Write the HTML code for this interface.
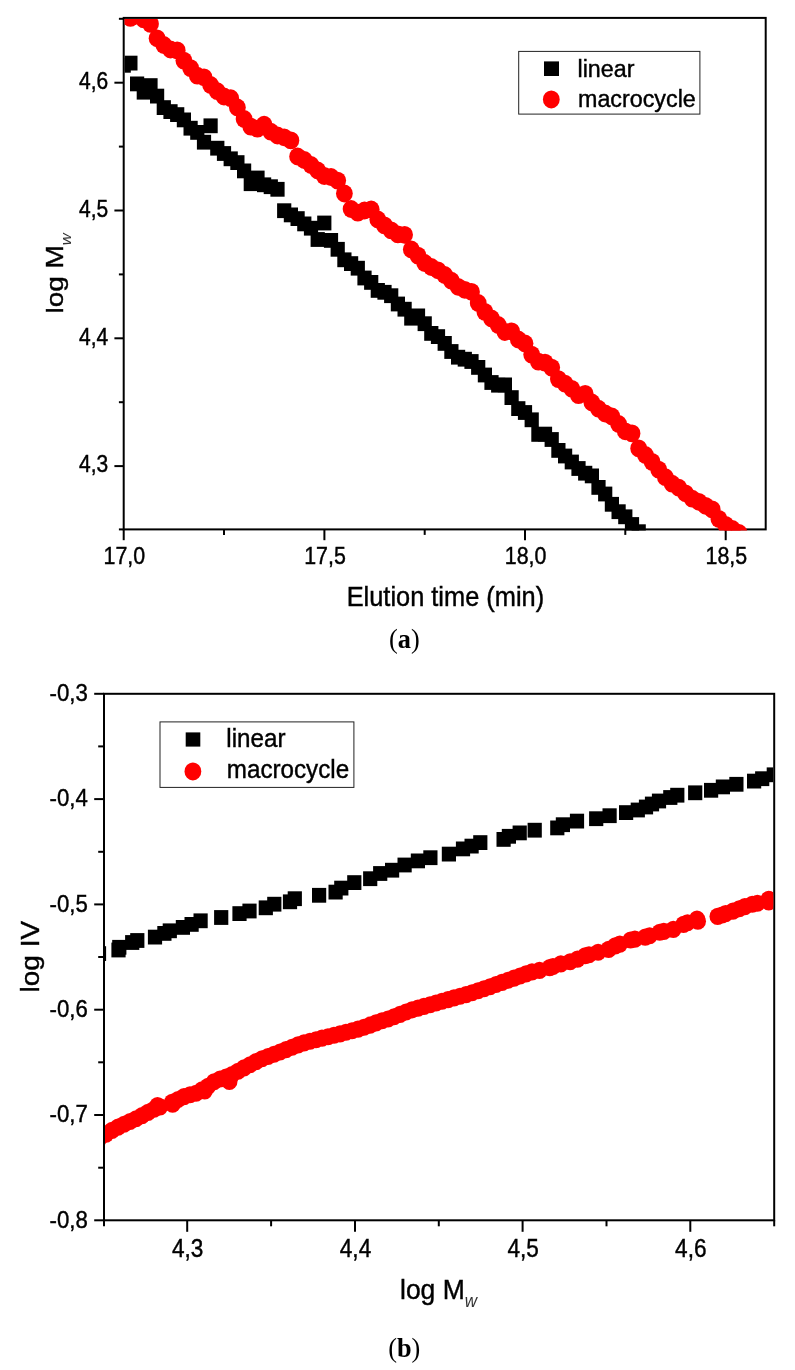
<!DOCTYPE html>
<html lang="en"><head><meta charset="utf-8"><title>Figure</title>
<style>html,body{margin:0;padding:0;background:#fff}svg{display:block}text{font-family:"Liberation Sans",sans-serif;fill:#000}.cap{font-family:"Liberation Serif",serif}</style></head><body>
<svg width="795" height="1370" viewBox="0 0 795 1370">
<rect width="795" height="1370" fill="#fff"/>
<defs><clipPath id="ca"><rect x="124.7" y="18.9" width="640.0" height="511.5"/></clipPath><clipPath id="cb"><rect x="105.0" y="694.8" width="668.2" height="526.5"/></clipPath></defs>
<g stroke="#000" stroke-width="2.0" fill="none">
<rect x="123.7" y="17.9" width="642.0" height="511.5"/>
<line x1="114.4" y1="466.1" x2="123.7" y2="466.1"/>
<line x1="114.4" y1="338.3" x2="123.7" y2="338.3"/>
<line x1="114.4" y1="210.5" x2="123.7" y2="210.5"/>
<line x1="114.4" y1="82.7" x2="123.7" y2="82.7"/>
<line x1="118.9" y1="529.4" x2="123.7" y2="529.4"/>
<line x1="118.9" y1="402.2" x2="123.7" y2="402.2"/>
<line x1="118.9" y1="274.4" x2="123.7" y2="274.4"/>
<line x1="118.9" y1="146.6" x2="123.7" y2="146.6"/>
<line x1="118.9" y1="18.8" x2="123.7" y2="18.8"/>
<line x1="123.7" y1="529.4" x2="123.7" y2="540.2"/>
<line x1="324.4" y1="529.4" x2="324.4" y2="540.2"/>
<line x1="525.0" y1="529.4" x2="525.0" y2="540.2"/>
<line x1="725.7" y1="529.4" x2="725.7" y2="540.2"/>
<line x1="224.0" y1="529.4" x2="224.0" y2="534.9"/>
<line x1="424.7" y1="529.4" x2="424.7" y2="534.9"/>
<line x1="625.3" y1="529.4" x2="625.3" y2="534.9"/>
</g>
<g clip-path="url(#ca)"><g fill="#000">
<rect x="116.6" y="57.9" width="14.2" height="14.8"/>
<rect x="123.3" y="55.7" width="14.2" height="14.8"/>
<rect x="130.0" y="76.5" width="14.2" height="14.8"/>
<rect x="136.7" y="84.8" width="14.2" height="14.8"/>
<rect x="143.4" y="78.2" width="14.2" height="14.8"/>
<rect x="150.0" y="88.7" width="14.2" height="14.8"/>
<rect x="156.7" y="100.2" width="14.2" height="14.8"/>
<rect x="163.4" y="104.2" width="14.2" height="14.8"/>
<rect x="170.1" y="107.2" width="14.2" height="14.8"/>
<rect x="176.8" y="112.5" width="14.2" height="14.8"/>
<rect x="183.5" y="120.8" width="14.2" height="14.8"/>
<rect x="190.2" y="125.0" width="14.2" height="14.8"/>
<rect x="196.9" y="134.8" width="14.2" height="14.8"/>
<rect x="203.5" y="118.4" width="14.2" height="14.8"/>
<rect x="210.2" y="140.8" width="14.2" height="14.8"/>
<rect x="216.9" y="146.1" width="14.2" height="14.8"/>
<rect x="223.6" y="151.4" width="14.2" height="14.8"/>
<rect x="230.3" y="155.2" width="14.2" height="14.8"/>
<rect x="237.0" y="163.5" width="14.2" height="14.8"/>
<rect x="243.7" y="176.3" width="14.2" height="14.8"/>
<rect x="250.4" y="170.6" width="14.2" height="14.8"/>
<rect x="257.0" y="177.4" width="14.2" height="14.8"/>
<rect x="263.7" y="179.3" width="14.2" height="14.8"/>
<rect x="270.4" y="181.9" width="14.2" height="14.8"/>
<rect x="277.1" y="203.3" width="14.2" height="14.8"/>
<rect x="283.8" y="207.5" width="14.2" height="14.8"/>
<rect x="290.5" y="211.2" width="14.2" height="14.8"/>
<rect x="297.2" y="216.5" width="14.2" height="14.8"/>
<rect x="303.9" y="220.8" width="14.2" height="14.8"/>
<rect x="310.6" y="232.1" width="14.2" height="14.8"/>
<rect x="317.2" y="215.6" width="14.2" height="14.8"/>
<rect x="323.9" y="233.0" width="14.2" height="14.8"/>
<rect x="330.6" y="241.9" width="14.2" height="14.8"/>
<rect x="337.3" y="252.4" width="14.2" height="14.8"/>
<rect x="344.0" y="256.2" width="14.2" height="14.8"/>
<rect x="350.7" y="260.8" width="14.2" height="14.8"/>
<rect x="357.4" y="270.6" width="14.2" height="14.8"/>
<rect x="364.1" y="275.0" width="14.2" height="14.8"/>
<rect x="370.7" y="283.0" width="14.2" height="14.8"/>
<rect x="377.4" y="284.9" width="14.2" height="14.8"/>
<rect x="384.1" y="288.3" width="14.2" height="14.8"/>
<rect x="390.8" y="296.6" width="14.2" height="14.8"/>
<rect x="397.5" y="301.8" width="14.2" height="14.8"/>
<rect x="404.2" y="310.8" width="14.2" height="14.8"/>
<rect x="410.9" y="308.5" width="14.2" height="14.8"/>
<rect x="417.6" y="316.3" width="14.2" height="14.8"/>
<rect x="424.2" y="326.0" width="14.2" height="14.8"/>
<rect x="430.9" y="329.2" width="14.2" height="14.8"/>
<rect x="437.6" y="336.0" width="14.2" height="14.8"/>
<rect x="444.3" y="344.1" width="14.2" height="14.8"/>
<rect x="451.0" y="349.8" width="14.2" height="14.8"/>
<rect x="457.7" y="351.8" width="14.2" height="14.8"/>
<rect x="464.4" y="354.1" width="14.2" height="14.8"/>
<rect x="471.1" y="360.0" width="14.2" height="14.8"/>
<rect x="477.8" y="367.6" width="14.2" height="14.8"/>
<rect x="484.4" y="375.1" width="14.2" height="14.8"/>
<rect x="491.1" y="377.8" width="14.2" height="14.8"/>
<rect x="497.8" y="377.5" width="14.2" height="14.8"/>
<rect x="504.5" y="390.2" width="14.2" height="14.8"/>
<rect x="511.2" y="401.2" width="14.2" height="14.8"/>
<rect x="517.9" y="405.1" width="14.2" height="14.8"/>
<rect x="524.6" y="412.4" width="14.2" height="14.8"/>
<rect x="531.3" y="427.0" width="14.2" height="14.8"/>
<rect x="537.9" y="426.7" width="14.2" height="14.8"/>
<rect x="544.6" y="432.1" width="14.2" height="14.8"/>
<rect x="551.3" y="443.0" width="14.2" height="14.8"/>
<rect x="558.0" y="448.6" width="14.2" height="14.8"/>
<rect x="564.7" y="454.6" width="14.2" height="14.8"/>
<rect x="571.4" y="461.1" width="14.2" height="14.8"/>
<rect x="578.1" y="465.8" width="14.2" height="14.8"/>
<rect x="584.8" y="468.5" width="14.2" height="14.8"/>
<rect x="591.4" y="480.0" width="14.2" height="14.8"/>
<rect x="598.1" y="486.6" width="14.2" height="14.8"/>
<rect x="604.8" y="496.9" width="14.2" height="14.8"/>
<rect x="611.5" y="504.3" width="14.2" height="14.8"/>
<rect x="618.2" y="509.4" width="14.2" height="14.8"/>
<rect x="624.9" y="517.1" width="14.2" height="14.8"/>
<rect x="631.6" y="524.3" width="14.2" height="14.8"/>
</g><g fill="#f00">
<ellipse cx="123.7" cy="16.0" rx="8.4" ry="8.9"/>
<ellipse cx="130.4" cy="17.9" rx="8.4" ry="8.9"/>
<ellipse cx="137.1" cy="15.6" rx="8.4" ry="8.9"/>
<ellipse cx="143.8" cy="19.4" rx="8.4" ry="8.9"/>
<ellipse cx="150.5" cy="23.9" rx="8.4" ry="8.9"/>
<ellipse cx="157.1" cy="38.3" rx="8.4" ry="8.9"/>
<ellipse cx="163.8" cy="45.0" rx="8.4" ry="8.9"/>
<ellipse cx="170.5" cy="49.5" rx="8.4" ry="8.9"/>
<ellipse cx="177.2" cy="50.4" rx="8.4" ry="8.9"/>
<ellipse cx="183.9" cy="60.6" rx="8.4" ry="8.9"/>
<ellipse cx="190.6" cy="68.1" rx="8.4" ry="8.9"/>
<ellipse cx="197.3" cy="75.7" rx="8.4" ry="8.9"/>
<ellipse cx="204.0" cy="77.3" rx="8.4" ry="8.9"/>
<ellipse cx="210.6" cy="85.0" rx="8.4" ry="8.9"/>
<ellipse cx="217.3" cy="91.2" rx="8.4" ry="8.9"/>
<ellipse cx="224.0" cy="96.5" rx="8.4" ry="8.9"/>
<ellipse cx="230.7" cy="98.2" rx="8.4" ry="8.9"/>
<ellipse cx="237.4" cy="107.5" rx="8.4" ry="8.9"/>
<ellipse cx="244.1" cy="119.0" rx="8.4" ry="8.9"/>
<ellipse cx="250.8" cy="126.7" rx="8.4" ry="8.9"/>
<ellipse cx="257.5" cy="128.7" rx="8.4" ry="8.9"/>
<ellipse cx="264.1" cy="124.7" rx="8.4" ry="8.9"/>
<ellipse cx="270.8" cy="131.7" rx="8.4" ry="8.9"/>
<ellipse cx="277.5" cy="135.5" rx="8.4" ry="8.9"/>
<ellipse cx="284.2" cy="137.3" rx="8.4" ry="8.9"/>
<ellipse cx="290.9" cy="140.4" rx="8.4" ry="8.9"/>
<ellipse cx="297.6" cy="156.5" rx="8.4" ry="8.9"/>
<ellipse cx="304.3" cy="160.0" rx="8.4" ry="8.9"/>
<ellipse cx="311.0" cy="165.0" rx="8.4" ry="8.9"/>
<ellipse cx="317.7" cy="170.5" rx="8.4" ry="8.9"/>
<ellipse cx="324.3" cy="176.0" rx="8.4" ry="8.9"/>
<ellipse cx="331.0" cy="177.0" rx="8.4" ry="8.9"/>
<ellipse cx="337.7" cy="180.6" rx="8.4" ry="8.9"/>
<ellipse cx="344.4" cy="193.5" rx="8.4" ry="8.9"/>
<ellipse cx="351.1" cy="209.0" rx="8.4" ry="8.9"/>
<ellipse cx="357.8" cy="212.7" rx="8.4" ry="8.9"/>
<ellipse cx="364.5" cy="210.5" rx="8.4" ry="8.9"/>
<ellipse cx="371.2" cy="209.5" rx="8.4" ry="8.9"/>
<ellipse cx="377.8" cy="219.5" rx="8.4" ry="8.9"/>
<ellipse cx="384.5" cy="225.4" rx="8.4" ry="8.9"/>
<ellipse cx="391.2" cy="230.4" rx="8.4" ry="8.9"/>
<ellipse cx="397.9" cy="234.4" rx="8.4" ry="8.9"/>
<ellipse cx="404.6" cy="234.8" rx="8.4" ry="8.9"/>
<ellipse cx="411.3" cy="249.5" rx="8.4" ry="8.9"/>
<ellipse cx="418.0" cy="255.6" rx="8.4" ry="8.9"/>
<ellipse cx="424.7" cy="263.0" rx="8.4" ry="8.9"/>
<ellipse cx="431.3" cy="267.0" rx="8.4" ry="8.9"/>
<ellipse cx="438.0" cy="270.3" rx="8.4" ry="8.9"/>
<ellipse cx="444.7" cy="275.0" rx="8.4" ry="8.9"/>
<ellipse cx="451.4" cy="280.7" rx="8.4" ry="8.9"/>
<ellipse cx="458.1" cy="286.8" rx="8.4" ry="8.9"/>
<ellipse cx="464.8" cy="289.8" rx="8.4" ry="8.9"/>
<ellipse cx="471.5" cy="291.8" rx="8.4" ry="8.9"/>
<ellipse cx="478.2" cy="303.0" rx="8.4" ry="8.9"/>
<ellipse cx="484.9" cy="311.9" rx="8.4" ry="8.9"/>
<ellipse cx="491.5" cy="318.5" rx="8.4" ry="8.9"/>
<ellipse cx="498.2" cy="325.0" rx="8.4" ry="8.9"/>
<ellipse cx="504.9" cy="332.0" rx="8.4" ry="8.9"/>
<ellipse cx="511.6" cy="331.4" rx="8.4" ry="8.9"/>
<ellipse cx="518.3" cy="339.5" rx="8.4" ry="8.9"/>
<ellipse cx="525.0" cy="343.5" rx="8.4" ry="8.9"/>
<ellipse cx="531.7" cy="354.6" rx="8.4" ry="8.9"/>
<ellipse cx="538.4" cy="361.6" rx="8.4" ry="8.9"/>
<ellipse cx="545.0" cy="362.6" rx="8.4" ry="8.9"/>
<ellipse cx="551.7" cy="367.6" rx="8.4" ry="8.9"/>
<ellipse cx="558.4" cy="379.1" rx="8.4" ry="8.9"/>
<ellipse cx="565.1" cy="383.7" rx="8.4" ry="8.9"/>
<ellipse cx="571.8" cy="388.8" rx="8.4" ry="8.9"/>
<ellipse cx="578.5" cy="395.2" rx="8.4" ry="8.9"/>
<ellipse cx="585.2" cy="393.8" rx="8.4" ry="8.9"/>
<ellipse cx="591.9" cy="402.5" rx="8.4" ry="8.9"/>
<ellipse cx="598.5" cy="408.7" rx="8.4" ry="8.9"/>
<ellipse cx="605.2" cy="413.5" rx="8.4" ry="8.9"/>
<ellipse cx="611.9" cy="416.5" rx="8.4" ry="8.9"/>
<ellipse cx="618.6" cy="424.0" rx="8.4" ry="8.9"/>
<ellipse cx="625.3" cy="431.3" rx="8.4" ry="8.9"/>
<ellipse cx="632.0" cy="433.4" rx="8.4" ry="8.9"/>
<ellipse cx="638.7" cy="448.4" rx="8.4" ry="8.9"/>
<ellipse cx="645.4" cy="455.0" rx="8.4" ry="8.9"/>
<ellipse cx="652.1" cy="461.9" rx="8.4" ry="8.9"/>
<ellipse cx="658.7" cy="469.6" rx="8.4" ry="8.9"/>
<ellipse cx="665.4" cy="477.2" rx="8.4" ry="8.9"/>
<ellipse cx="672.1" cy="483.7" rx="8.4" ry="8.9"/>
<ellipse cx="678.8" cy="487.7" rx="8.4" ry="8.9"/>
<ellipse cx="685.5" cy="493.3" rx="8.4" ry="8.9"/>
<ellipse cx="692.2" cy="498.7" rx="8.4" ry="8.9"/>
<ellipse cx="698.9" cy="501.8" rx="8.4" ry="8.9"/>
<ellipse cx="705.6" cy="505.8" rx="8.4" ry="8.9"/>
<ellipse cx="712.2" cy="509.4" rx="8.4" ry="8.9"/>
<ellipse cx="718.9" cy="518.9" rx="8.4" ry="8.9"/>
<ellipse cx="725.6" cy="524.9" rx="8.4" ry="8.9"/>
<ellipse cx="732.3" cy="529.0" rx="8.4" ry="8.9"/>
<ellipse cx="739.0" cy="533.0" rx="8.4" ry="8.9"/>
</g></g>
<text font-size="21" text-anchor="end" transform="translate(108.2,472.4) scale(1.0,1.15)" stroke="#000" stroke-width="0.4">4,3</text>
<text font-size="21" text-anchor="end" transform="translate(108.2,344.6) scale(1.0,1.15)" stroke="#000" stroke-width="0.4">4,4</text>
<text font-size="21" text-anchor="end" transform="translate(108.2,216.8) scale(1.0,1.15)" stroke="#000" stroke-width="0.4">4,5</text>
<text font-size="21" text-anchor="end" transform="translate(108.2,89.0) scale(1.0,1.15)" stroke="#000" stroke-width="0.4">4,6</text>
<text font-size="21.4" text-anchor="middle" transform="translate(124.3,564.4) scale(1.0,1.1)" stroke="#000" stroke-width="0.4">17,0</text>
<text font-size="21.4" text-anchor="middle" transform="translate(325.0,564.4) scale(1.0,1.1)" stroke="#000" stroke-width="0.4">17,5</text>
<text font-size="21.4" text-anchor="middle" transform="translate(525.6,564.4) scale(1.0,1.1)" stroke="#000" stroke-width="0.4">18,0</text>
<text font-size="21.4" text-anchor="middle" transform="translate(726.3,564.4) scale(1.0,1.1)" stroke="#000" stroke-width="0.4">18,5</text>
<text font-size="25.4" text-anchor="middle" transform="translate(445.4,605.8) scale(1.0,1.08)" stroke="#000" stroke-width="0.4">Elution time (min)</text>
<text font-size="23.7" text-anchor="start" transform="translate(63.4,313.5) rotate(-90) scale(1.18,1.0)" stroke="#000" stroke-width="0.4">log M<tspan font-size="14" font-style="italic" dy="7.5" stroke="none" fill="#333">w</tspan></text>
<rect x="518.7" y="51.4" width="181.2" height="62.7" fill="#fff" stroke="#222" stroke-width="1"/>
<rect x="544" y="61.4" width="15" height="14.6" fill="#000"/>
<ellipse cx="551.3" cy="99.4" rx="8.4" ry="9" fill="#f00"/>
<text font-size="23.3" text-anchor="start" transform="translate(577.5,77.3) scale(1.0,1.04)" stroke="#000" stroke-width="0.4">linear</text>
<text font-size="23.3" text-anchor="start" transform="translate(578,106.5) scale(1.0,1.04)" stroke="#000" stroke-width="0.4">macrocycle</text>
<text class="cap" font-size="26.3" text-anchor="middle" transform="translate(404.3,648.0)">(<tspan font-weight="bold">a</tspan>)</text>
<g stroke="#000" stroke-width="2.0" fill="none">
<rect x="104.0" y="693.8" width="670.2" height="526.5"/>
<line x1="94.2" y1="693.8" x2="104.0" y2="693.8"/>
<line x1="94.2" y1="799.1" x2="104.0" y2="799.1"/>
<line x1="94.2" y1="904.4" x2="104.0" y2="904.4"/>
<line x1="94.2" y1="1009.7" x2="104.0" y2="1009.7"/>
<line x1="94.2" y1="1115.0" x2="104.0" y2="1115.0"/>
<line x1="94.2" y1="1220.3" x2="104.0" y2="1220.3"/>
<line x1="98.2" y1="746.4" x2="104.0" y2="746.4"/>
<line x1="98.2" y1="851.8" x2="104.0" y2="851.8"/>
<line x1="98.2" y1="957.0" x2="104.0" y2="957.0"/>
<line x1="98.2" y1="1062.3" x2="104.0" y2="1062.3"/>
<line x1="98.2" y1="1167.7" x2="104.0" y2="1167.7"/>
<line x1="187.2" y1="1220.3" x2="187.2" y2="1231.8"/>
<line x1="355.0" y1="1220.3" x2="355.0" y2="1231.8"/>
<line x1="522.6" y1="1220.3" x2="522.6" y2="1231.8"/>
<line x1="690.3" y1="1220.3" x2="690.3" y2="1231.8"/>
<line x1="104.0" y1="1220.3" x2="104.0" y2="1226.3"/>
<line x1="271.1" y1="1220.3" x2="271.1" y2="1226.3"/>
<line x1="438.8" y1="1220.3" x2="438.8" y2="1226.3"/>
<line x1="606.5" y1="1220.3" x2="606.5" y2="1226.3"/>
<line x1="774.2" y1="1220.3" x2="774.2" y2="1226.3"/>
</g>
<g clip-path="url(#cb)"><g fill="#000">
<rect x="91.9" y="946.2" width="14.2" height="14.8"/>
<rect x="111.4" y="942.6" width="14.2" height="14.8"/>
<rect x="112.2" y="939.9" width="14.2" height="14.8"/>
<rect x="125.1" y="935.1" width="14.2" height="14.8"/>
<rect x="130.2" y="933.1" width="14.2" height="14.8"/>
<rect x="147.9" y="929.7" width="14.2" height="14.8"/>
<rect x="157.3" y="926.0" width="14.2" height="14.8"/>
<rect x="162.7" y="923.4" width="14.2" height="14.8"/>
<rect x="175.8" y="920.0" width="14.2" height="14.8"/>
<rect x="184.5" y="917.0" width="14.2" height="14.8"/>
<rect x="193.5" y="913.4" width="14.2" height="14.8"/>
<rect x="214.1" y="910.1" width="14.2" height="14.8"/>
<rect x="232.4" y="906.2" width="14.2" height="14.8"/>
<rect x="242.4" y="903.6" width="14.2" height="14.8"/>
<rect x="258.7" y="900.4" width="14.2" height="14.8"/>
<rect x="267.2" y="896.8" width="14.2" height="14.8"/>
<rect x="282.9" y="894.4" width="14.2" height="14.8"/>
<rect x="287.7" y="891.3" width="14.2" height="14.8"/>
<rect x="312.0" y="887.9" width="14.2" height="14.8"/>
<rect x="328.5" y="884.7" width="14.2" height="14.8"/>
<rect x="334.2" y="880.7" width="14.2" height="14.8"/>
<rect x="347.2" y="875.2" width="14.2" height="14.8"/>
<rect x="363.1" y="871.3" width="14.2" height="14.8"/>
<rect x="373.1" y="866.1" width="14.2" height="14.8"/>
<rect x="385.0" y="862.8" width="14.2" height="14.8"/>
<rect x="397.5" y="857.6" width="14.2" height="14.8"/>
<rect x="410.8" y="853.5" width="14.2" height="14.8"/>
<rect x="423.3" y="850.3" width="14.2" height="14.8"/>
<rect x="441.8" y="846.7" width="14.2" height="14.8"/>
<rect x="455.9" y="841.5" width="14.2" height="14.8"/>
<rect x="464.5" y="838.7" width="14.2" height="14.8"/>
<rect x="473.2" y="835.2" width="14.2" height="14.8"/>
<rect x="496.5" y="832.0" width="14.2" height="14.8"/>
<rect x="501.8" y="828.9" width="14.2" height="14.8"/>
<rect x="512.6" y="825.5" width="14.2" height="14.8"/>
<rect x="527.6" y="822.8" width="14.2" height="14.8"/>
<rect x="550.2" y="820.5" width="14.2" height="14.8"/>
<rect x="555.8" y="817.3" width="14.2" height="14.8"/>
<rect x="569.9" y="813.7" width="14.2" height="14.8"/>
<rect x="589.1" y="811.3" width="14.2" height="14.8"/>
<rect x="602.5" y="808.3" width="14.2" height="14.8"/>
<rect x="619.0" y="805.2" width="14.2" height="14.8"/>
<rect x="630.7" y="802.6" width="14.2" height="14.8"/>
<rect x="638.9" y="799.6" width="14.2" height="14.8"/>
<rect x="644.9" y="796.6" width="14.2" height="14.8"/>
<rect x="651.9" y="793.6" width="14.2" height="14.8"/>
<rect x="663.2" y="790.1" width="14.2" height="14.8"/>
<rect x="670.2" y="787.8" width="14.2" height="14.8"/>
<rect x="688.1" y="785.4" width="14.2" height="14.8"/>
<rect x="704.0" y="782.9" width="14.2" height="14.8"/>
<rect x="715.8" y="779.5" width="14.2" height="14.8"/>
<rect x="729.3" y="776.9" width="14.2" height="14.8"/>
<rect x="747.0" y="773.7" width="14.2" height="14.8"/>
<rect x="755.1" y="771.3" width="14.2" height="14.8"/>
<rect x="766.7" y="767.4" width="14.2" height="14.8"/>
</g><g fill="#f00">
<ellipse cx="100.0" cy="1137.4" rx="8.1" ry="8.55"/>
<ellipse cx="106.0" cy="1134.1" rx="8.1" ry="8.55"/>
<ellipse cx="112.0" cy="1130.4" rx="8.1" ry="8.55"/>
<ellipse cx="118.0" cy="1127.1" rx="8.1" ry="8.55"/>
<ellipse cx="124.0" cy="1124.3" rx="8.1" ry="8.55"/>
<ellipse cx="130.0" cy="1121.5" rx="8.1" ry="8.55"/>
<ellipse cx="136.0" cy="1118.7" rx="8.1" ry="8.55"/>
<ellipse cx="142.0" cy="1115.6" rx="8.1" ry="8.55"/>
<ellipse cx="148.0" cy="1112.4" rx="8.1" ry="8.55"/>
<ellipse cx="154.0" cy="1109.3" rx="8.1" ry="8.55"/>
<ellipse cx="160.0" cy="1106.9" rx="8.1" ry="8.55"/>
<ellipse cx="172.0" cy="1102.4" rx="8.1" ry="8.55"/>
<ellipse cx="178.0" cy="1099.5" rx="8.1" ry="8.55"/>
<ellipse cx="184.0" cy="1096.6" rx="8.1" ry="8.55"/>
<ellipse cx="190.0" cy="1094.8" rx="8.1" ry="8.55"/>
<ellipse cx="196.0" cy="1093.2" rx="8.1" ry="8.55"/>
<ellipse cx="202.0" cy="1089.9" rx="8.1" ry="8.55"/>
<ellipse cx="208.0" cy="1086.2" rx="8.1" ry="8.55"/>
<ellipse cx="214.0" cy="1081.7" rx="8.1" ry="8.55"/>
<ellipse cx="220.0" cy="1079.0" rx="8.1" ry="8.55"/>
<ellipse cx="226.0" cy="1077.0" rx="8.1" ry="8.55"/>
<ellipse cx="232.0" cy="1074.6" rx="8.1" ry="8.55"/>
<ellipse cx="238.0" cy="1071.2" rx="8.1" ry="8.55"/>
<ellipse cx="244.0" cy="1067.9" rx="8.1" ry="8.55"/>
<ellipse cx="250.0" cy="1064.7" rx="8.1" ry="8.55"/>
<ellipse cx="256.0" cy="1061.6" rx="8.1" ry="8.55"/>
<ellipse cx="262.0" cy="1058.7" rx="8.1" ry="8.55"/>
<ellipse cx="268.0" cy="1056.5" rx="8.1" ry="8.55"/>
<ellipse cx="274.0" cy="1054.2" rx="8.1" ry="8.55"/>
<ellipse cx="280.0" cy="1052.0" rx="8.1" ry="8.55"/>
<ellipse cx="286.0" cy="1049.6" rx="8.1" ry="8.55"/>
<ellipse cx="292.0" cy="1047.2" rx="8.1" ry="8.55"/>
<ellipse cx="298.0" cy="1044.9" rx="8.1" ry="8.55"/>
<ellipse cx="304.0" cy="1042.9" rx="8.1" ry="8.55"/>
<ellipse cx="310.0" cy="1041.3" rx="8.1" ry="8.55"/>
<ellipse cx="316.0" cy="1039.7" rx="8.1" ry="8.55"/>
<ellipse cx="322.0" cy="1038.1" rx="8.1" ry="8.55"/>
<ellipse cx="328.0" cy="1036.7" rx="8.1" ry="8.55"/>
<ellipse cx="334.0" cy="1035.3" rx="8.1" ry="8.55"/>
<ellipse cx="340.0" cy="1033.9" rx="8.1" ry="8.55"/>
<ellipse cx="346.0" cy="1032.3" rx="8.1" ry="8.55"/>
<ellipse cx="352.0" cy="1030.7" rx="8.1" ry="8.55"/>
<ellipse cx="358.0" cy="1029.1" rx="8.1" ry="8.55"/>
<ellipse cx="364.0" cy="1027.2" rx="8.1" ry="8.55"/>
<ellipse cx="370.0" cy="1025.1" rx="8.1" ry="8.55"/>
<ellipse cx="376.0" cy="1022.9" rx="8.1" ry="8.55"/>
<ellipse cx="382.0" cy="1020.8" rx="8.1" ry="8.55"/>
<ellipse cx="388.0" cy="1019.0" rx="8.1" ry="8.55"/>
<ellipse cx="394.0" cy="1016.8" rx="8.1" ry="8.55"/>
<ellipse cx="400.0" cy="1014.4" rx="8.1" ry="8.55"/>
<ellipse cx="406.0" cy="1012.0" rx="8.1" ry="8.55"/>
<ellipse cx="412.0" cy="1009.9" rx="8.1" ry="8.55"/>
<ellipse cx="418.0" cy="1008.1" rx="8.1" ry="8.55"/>
<ellipse cx="424.0" cy="1006.4" rx="8.1" ry="8.55"/>
<ellipse cx="430.0" cy="1004.7" rx="8.1" ry="8.55"/>
<ellipse cx="436.0" cy="1003.0" rx="8.1" ry="8.55"/>
<ellipse cx="442.0" cy="1001.3" rx="8.1" ry="8.55"/>
<ellipse cx="448.0" cy="999.6" rx="8.1" ry="8.55"/>
<ellipse cx="454.0" cy="997.9" rx="8.1" ry="8.55"/>
<ellipse cx="460.0" cy="996.2" rx="8.1" ry="8.55"/>
<ellipse cx="466.0" cy="994.6" rx="8.1" ry="8.55"/>
<ellipse cx="472.0" cy="992.8" rx="8.1" ry="8.55"/>
<ellipse cx="478.0" cy="990.8" rx="8.1" ry="8.55"/>
<ellipse cx="484.0" cy="988.7" rx="8.1" ry="8.55"/>
<ellipse cx="490.0" cy="986.7" rx="8.1" ry="8.55"/>
<ellipse cx="496.0" cy="984.5" rx="8.1" ry="8.55"/>
<ellipse cx="502.0" cy="982.4" rx="8.1" ry="8.55"/>
<ellipse cx="508.0" cy="980.2" rx="8.1" ry="8.55"/>
<ellipse cx="514.0" cy="978.1" rx="8.1" ry="8.55"/>
<ellipse cx="520.0" cy="976.0" rx="8.1" ry="8.55"/>
<ellipse cx="526.0" cy="973.9" rx="8.1" ry="8.55"/>
<ellipse cx="532.0" cy="971.9" rx="8.1" ry="8.55"/>
<ellipse cx="157.5" cy="1105.6" rx="8.1" ry="8.55"/>
<ellipse cx="172.6" cy="1104.2" rx="8.1" ry="8.55"/>
<ellipse cx="204.7" cy="1091.0" rx="8.1" ry="8.55"/>
<ellipse cx="229.4" cy="1081.4" rx="8.1" ry="8.55"/>
<ellipse cx="539.5" cy="970.4" rx="8.1" ry="8.55"/>
<ellipse cx="549.7" cy="967.6" rx="8.1" ry="8.55"/>
<ellipse cx="553.0" cy="966.5" rx="8.1" ry="8.55"/>
<ellipse cx="560.8" cy="963.9" rx="8.1" ry="8.55"/>
<ellipse cx="570.1" cy="961.7" rx="8.1" ry="8.55"/>
<ellipse cx="577.5" cy="959.1" rx="8.1" ry="8.55"/>
<ellipse cx="585.1" cy="955.7" rx="8.1" ry="8.55"/>
<ellipse cx="589.0" cy="954.7" rx="8.1" ry="8.55"/>
<ellipse cx="598.1" cy="952.3" rx="8.1" ry="8.55"/>
<ellipse cx="608.6" cy="949.4" rx="8.1" ry="8.55"/>
<ellipse cx="615.2" cy="945.9" rx="8.1" ry="8.55"/>
<ellipse cx="619.8" cy="944.1" rx="8.1" ry="8.55"/>
<ellipse cx="630.5" cy="940.0" rx="8.1" ry="8.55"/>
<ellipse cx="634.9" cy="939.1" rx="8.1" ry="8.55"/>
<ellipse cx="645.2" cy="937.1" rx="8.1" ry="8.55"/>
<ellipse cx="649.6" cy="935.7" rx="8.1" ry="8.55"/>
<ellipse cx="659.7" cy="932.3" rx="8.1" ry="8.55"/>
<ellipse cx="663.8" cy="931.4" rx="8.1" ry="8.55"/>
<ellipse cx="673.3" cy="929.4" rx="8.1" ry="8.55"/>
<ellipse cx="683.5" cy="924.4" rx="8.1" ry="8.55"/>
<ellipse cx="687.5" cy="922.8" rx="8.1" ry="8.55"/>
<ellipse cx="697.0" cy="919.1" rx="8.1" ry="8.55"/>
<ellipse cx="717.6" cy="916.4" rx="8.1" ry="8.55"/>
<ellipse cx="722.0" cy="915.0" rx="8.1" ry="8.55"/>
<ellipse cx="725.6" cy="913.6" rx="8.1" ry="8.55"/>
<ellipse cx="732.9" cy="911.1" rx="8.1" ry="8.55"/>
<ellipse cx="739.2" cy="908.7" rx="8.1" ry="8.55"/>
<ellipse cx="744.8" cy="906.6" rx="8.1" ry="8.55"/>
<ellipse cx="752.2" cy="904.3" rx="8.1" ry="8.55"/>
<ellipse cx="757.4" cy="903.2" rx="8.1" ry="8.55"/>
<ellipse cx="768.6" cy="899.2" rx="8.1" ry="8.55"/>
<ellipse cx="768.8" cy="901.9" rx="8.1" ry="8.55"/>
<ellipse cx="697.9" cy="921.2" rx="8.1" ry="8.55"/>
</g></g>
<text font-size="22.2" text-anchor="end" transform="translate(87.8,701.0) scale(1.0,1.1)" stroke="#000" stroke-width="0.4">-0,3</text>
<text font-size="22.2" text-anchor="end" transform="translate(87.8,806.3) scale(1.0,1.1)" stroke="#000" stroke-width="0.4">-0,4</text>
<text font-size="22.2" text-anchor="end" transform="translate(87.8,911.6) scale(1.0,1.1)" stroke="#000" stroke-width="0.4">-0,5</text>
<text font-size="22.2" text-anchor="end" transform="translate(87.8,1016.9) scale(1.0,1.1)" stroke="#000" stroke-width="0.4">-0,6</text>
<text font-size="22.2" text-anchor="end" transform="translate(87.8,1122.2) scale(1.0,1.1)" stroke="#000" stroke-width="0.4">-0,7</text>
<text font-size="22.2" text-anchor="end" transform="translate(87.8,1227.5) scale(1.0,1.1)" stroke="#000" stroke-width="0.4">-0,8</text>
<text font-size="22.6" text-anchor="middle" transform="translate(187.7,1256.6) scale(1.0,1.1)" stroke="#000" stroke-width="0.4">4,3</text>
<text font-size="22.6" text-anchor="middle" transform="translate(355.5,1256.6) scale(1.0,1.1)" stroke="#000" stroke-width="0.4">4,4</text>
<text font-size="22.6" text-anchor="middle" transform="translate(523.1,1256.6) scale(1.0,1.1)" stroke="#000" stroke-width="0.4">4,5</text>
<text font-size="22.6" text-anchor="middle" transform="translate(690.8,1256.6) scale(1.0,1.1)" stroke="#000" stroke-width="0.4">4,6</text>
<text font-size="26.5" text-anchor="start" transform="translate(400,1298.8) scale(1.0,1.03)" stroke="#000" stroke-width="0.4">log M<tspan font-size="17" font-style="italic" dy="8" stroke="none" fill="#333">w</tspan></text>
<text font-size="25" text-anchor="start" transform="translate(39.2,992.5) rotate(-90) scale(1.12,1.0)" stroke="#000" stroke-width="0.4">log IV</text>
<rect x="160" y="721.9" width="193.9" height="65.5" fill="#fff" stroke="#222" stroke-width="1"/>
<rect x="185.7" y="732.4" width="14.6" height="14.2" fill="#000"/>
<ellipse cx="192.9" cy="771.4" rx="8.4" ry="9" fill="#f00"/>
<text font-size="24.2" text-anchor="start" transform="translate(226.3,746.6) scale(1.0,1.04)" stroke="#000" stroke-width="0.4">linear</text>
<text font-size="24.2" text-anchor="start" transform="translate(226.8,777.5) scale(1.0,1.04)" stroke="#000" stroke-width="0.4">macrocycle</text>
<text class="cap" font-size="26.3" text-anchor="middle" transform="translate(404.3,1357.4)">(<tspan font-weight="bold">b</tspan>)</text>
</svg></body></html>
